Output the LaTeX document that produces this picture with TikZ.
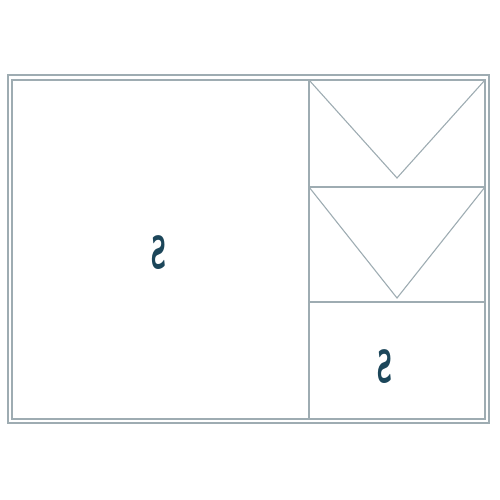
\documentclass[tikz,border=0pt]{standalone}
\usepackage{graphicx}
\usepackage{tikz}
\usetikzlibrary{calc, positioning}
\definecolor{lineGray}{RGB}{158,172,178}
\definecolor{markTeal}{RGB}{28,70,90}

\begin{document}
\begin{tikzpicture}[x=1pt, y=-1pt]
    \useasboundingbox (0,0) rectangle (500,500);
    \tikzset{
        frameline/.style={draw=lineGray, line width=1.1pt},
        mirrorS/.style={text=markTeal, inner sep=0pt, font=\sffamily\bfseries\fontsize{46}{46}\selectfont}
    }
    \coordinate (TL) at (12,80);
    \coordinate (BR) at (485,419);
    \coordinate (M1) at (309,80);   % top of the divider
    \coordinate (M2) at (309,419);
    \coordinate (R1) at (309,187);  % first split
    \coordinate (R2) at (309,302);  % second split
    
    % Double frame
    \draw[frameline] (8,75) rectangle (489,423);
    \draw[frameline] (TL) rectangle (BR);
    
    % Column and cells
    \draw[frameline] (M1) -- (M2);
    \draw[frameline] (R1) -- (R1 -| BR);
    \draw[frameline] (R2) -- (R2 -| BR);
    
    % Folds
    \draw[frameline] (M1) -- (397,178) -- (M1 -| BR);
    \draw[frameline] (R1) -- (397,298) -- (R1 -| BR);
    
    \node[mirrorS] (bigS) at (159,252.5) {\scalebox{-0.56}[1]{S}};
    \node[mirrorS] (smallS) at (384.5,367) {\scalebox{-0.56}[1]{S}};
\end{tikzpicture}
\end{document}
